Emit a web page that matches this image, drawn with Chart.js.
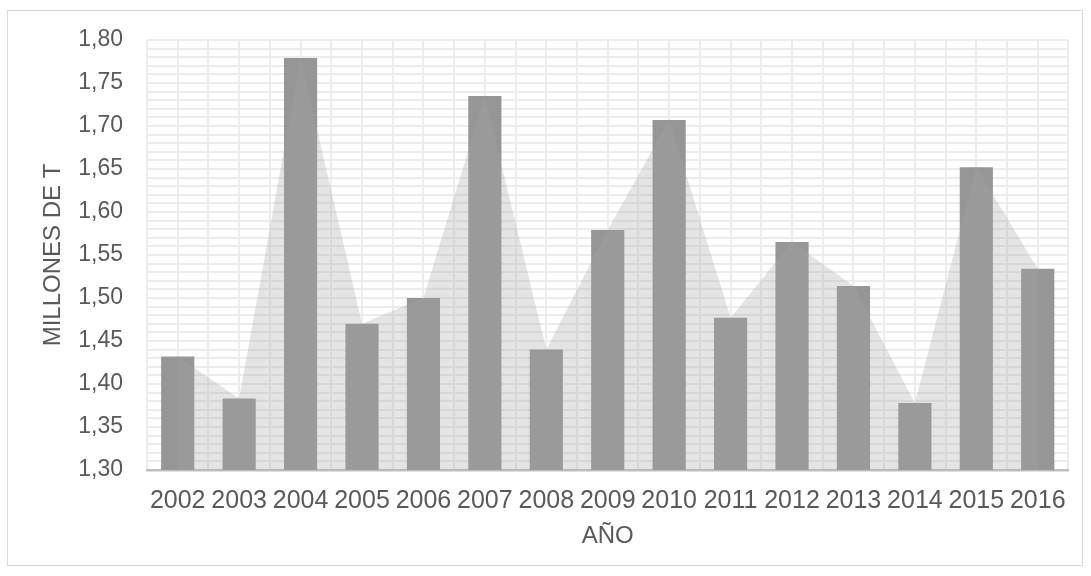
<!DOCTYPE html>
<html>
<head>
<meta charset="utf-8">
<script src="https://cdn.jsdelivr.net/npm/chart.js@4/dist/chart.umd.min.js"></script>
<style>
  html, body { margin: 0; padding: 0; background: #ffffff; }
  #frame {
    position: absolute; left: 7px; top: 10px;
    width: 1074px; height: 554px;
    border: 1px solid #d9d9d9; background: #ffffff;
  }
  #chart { display: block; }
</style>
</head>
<body>
<div id="frame"><canvas id="chart" width="1074" height="554"></canvas></div>
<script>
// Production per year, in millions of tonnes
const years = ['2002', '2003', '2004', '2005', '2006', '2007', '2008', '2009',
               '2010', '2011', '2012', '2013', '2014', '2015', '2016'];
const production = [1.432, 1.383, 1.779, 1.470, 1.500, 1.735, 1.440, 1.579,
                    1.707, 1.477, 1.565, 1.514, 1.378, 1.652, 1.534];
const yMin = 1.30;
const yMax = 1.80;
const yLabelStep = 0.05;
const yTitle = 'MILLONES DE T';
const xTitle = 'AÑO';

const textColor = '#595959';
const fontFamily = "'Liberation Sans', Arial, sans-serif";
const gridColor = '#ececec';

new Chart(document.getElementById('chart'), {
  data: {
    labels: years,
    datasets: [
      {
        type: 'line',
        data: production,
        order: 0,
        fill: 'start',
        backgroundColor: 'rgba(164,164,164,0.30)',
        borderWidth: 0,
        borderColor: 'rgba(0,0,0,0)',
        pointRadius: 0,
        tension: 0
      },
      {
        type: 'bar',
        data: production,
        order: 1,
        backgroundColor: '#969696',
        borderWidth: 0,
        barPercentage: 0.54,
        categoryPercentage: 1.0
      }
    ]
  },
  options: {
    responsive: false,
    animation: false,
    layout: { padding: { left: 0, right: 9, top: 29, bottom: 0 } },
    plugins: {
      legend: { display: false },
      tooltip: { enabled: false }
    },
    scales: {
      x: {
        type: 'category',
        position: 'bottom',
        offset: true,
        grid: { display: false, drawTicks: false },
        border: { display: true, color: '#bfbfbf', width: 2.5 },
        ticks: {
          color: textColor,
          font: { family: fontFamily, size: 25 },
          padding: 16,
          maxRotation: 0,
          autoSkip: false
        },
        title: {
          display: true,
          text: xTitle,
          color: textColor,
          font: { family: fontFamily, size: 24 },
          padding: { top: 0, bottom: 14 }
        },
        afterFit: (s) => { s.height = 95; }
      },
      // vertical grid lines at every category centre and boundary
      xGrid: {
        type: 'linear',
        position: 'top',
        min: -0.5,
        max: years.length - 0.5,
        grid: { display: true, color: gridColor, lineWidth: 2, drawTicks: false },
        border: { display: false },
        ticks: { display: false, stepSize: 0.5 },
        afterFit: (s) => { s.height = 0; }
      },
      y: {
        type: 'linear',
        min: yMin,
        max: yMax,
        grid: { display: true, color: gridColor, lineWidth: 2, drawTicks: false },
        border: { display: false },
        ticks: {
          stepSize: 0.01,
          autoSkip: false,
          color: textColor,
          font: { family: fontFamily, size: 23 },
          padding: 24,
          callback: (v) => {
            const hundredths = Math.round(v * 100);
            if (hundredths % Math.round(yLabelStep * 100) !== 0) return '';
            return (hundredths / 100).toFixed(2).replace('.', ',');
          }
        },
        title: {
          display: true,
          text: yTitle,
          color: textColor,
          font: { family: fontFamily, size: 24 },
          padding: { top: 31, bottom: 0 }
        },
        afterFit: (s) => {
          s.width = 139;
          s.paddingTop = 0;
          s.paddingBottom = 0;
        }
      }
    }
  }
});
</script>
</body>
</html>
